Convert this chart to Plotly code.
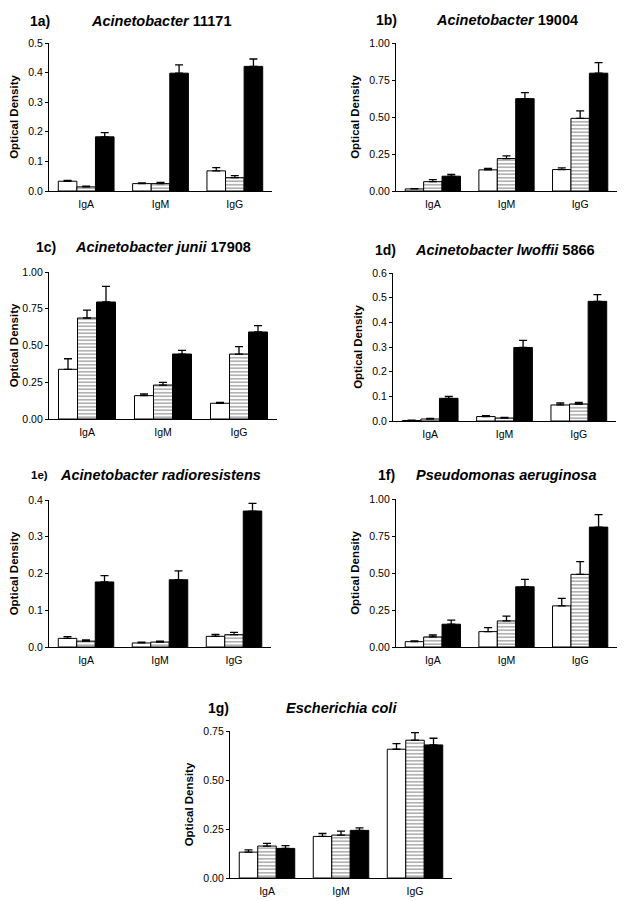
import plotly.graph_objects as go

# The page body keeps an 8 px margin, so the figure is sized to fill the rest of the window.
PAGE_W, PAGE_H, OFF = 629, 901, 8
W, H = PAGE_W - OFF, PAGE_H - OFF
categories = ["IgA", "IgM", "IgG"]

# Panel 1a
a_white = [0.033, 0.025, 0.068]
a_white_err = [0.003, 0.002, 0.011]
a_hatch = [0.014, 0.025, 0.045]
a_hatch_err = [0.002, 0.004, 0.007]
a_black = [0.183, 0.398, 0.421]
a_black_err = [0.014, 0.028, 0.025]

# Panel 1b
b_white = [0.014, 0.143, 0.145]
b_white_err = [0.002, 0.009, 0.011]
b_hatch = [0.063, 0.219, 0.491]
b_hatch_err = [0.014, 0.019, 0.050]
b_black = [0.100, 0.624, 0.796]
b_black_err = [0.013, 0.041, 0.071]

# Panel 1c
c_white = [0.338, 0.159, 0.107]
c_white_err = [0.072, 0.011, 0.006]
c_hatch = [0.687, 0.231, 0.442]
c_hatch_err = [0.054, 0.018, 0.050]
c_black = [0.796, 0.442, 0.592]
c_black_err = [0.106, 0.025, 0.043]

# Panel 1d
d_white = [0.002, 0.018, 0.065]
d_white_err = [0.001, 0.004, 0.008]
d_hatch = [0.008, 0.012, 0.069]
d_hatch_err = [0.003, 0.003, 0.006]
d_black = [0.092, 0.298, 0.485]
d_black_err = [0.008, 0.029, 0.027]

# Panel 1e
e_white = [0.0235, 0.011, 0.029]
e_white_err = [0.0045, 0.002, 0.005]
e_hatch = [0.016, 0.0135, 0.0335]
e_hatch_err = [0.003, 0.0025, 0.0065]
e_black = [0.177, 0.183, 0.370]
e_black_err = [0.017, 0.024, 0.021]

# Panel 1f
f_white = [0.036, 0.104, 0.278]
f_white_err = [0.005, 0.027, 0.050]
f_hatch = [0.068, 0.176, 0.491]
f_hatch_err = [0.013, 0.032, 0.086]
f_black = [0.154, 0.407, 0.810]
f_black_err = [0.027, 0.050, 0.084]

# Panel 1g
g_white = [0.132, 0.212, 0.657]
g_white_err = [0.012, 0.015, 0.029]
g_hatch = [0.163, 0.219, 0.703]
g_hatch_err = [0.014, 0.020, 0.039]
g_black = [0.151, 0.243, 0.679]
g_black_err = [0.014, 0.013, 0.034]

panels = [
    dict(label="1a)", title="<i>Acinetobacter</i> 11171", data=(a_white, a_white_err, a_hatch, a_hatch_err, a_black, a_black_err),
         yr=[0, 0.5], dt=0.1, fmt=".1f", box=(49, 272, 43, 191), lab_x=40, ty=21, lab_size=14),
    dict(label="1b)", title="<i>Acinetobacter</i> 19004", data=(b_white, b_white_err, b_hatch, b_hatch_err, b_black, b_black_err),
         yr=[0, 1.0], dt=0.25, fmt=".2f", box=(396, 617, 43, 191), lab_x=386, ty=20, lab_size=14),
    dict(label="1c)", title="<i>Acinetobacter junii</i> 17908", data=(c_white, c_white_err, c_hatch, c_hatch_err, c_black, c_black_err),
         yr=[0, 1.0], dt=0.25, fmt=".2f", box=(49, 277, 272, 419), lab_x=46, ty=247, lab_size=14),
    dict(label="1d)", title="<i>Acinetobacter lwoffii</i> 5866", data=(d_white, d_white_err, d_hatch, d_hatch_err, d_black, d_black_err),
         yr=[0, 0.6], dt=0.1, fmt=".1f", box=(393, 616, 273, 421), lab_x=385, ty=250, lab_size=14),
    dict(label="1e)", title="<i>Acinetobacter radioresistens</i>", data=(e_white, e_white_err, e_hatch, e_hatch_err, e_black, e_black_err),
         yr=[0, 0.4], dt=0.1, fmt=".1f", box=(49, 271, 500, 647), lab_x=39, ty=475, lab_size=11.5),
    dict(label="1f)", title="<i>Pseudomonas aeruginosa</i>", data=(f_white, f_white_err, f_hatch, f_hatch_err, f_black, f_black_err),
         yr=[0, 1.0], dt=0.25, fmt=".2f", box=(396, 617, 499, 647), lab_x=386, ty=475, lab_size=14),
    dict(label="1g)", title="<i>Escherichia coli</i>", data=(g_white, g_white_err, g_hatch, g_hatch_err, g_black, g_black_err),
         yr=[0, 0.75], dt=0.25, fmt=".2f", box=(230, 452, 731, 878), lab_x=218, ty=708, lab_size=14),
]


def px_x(p):
    return (p - OFF) / W


def px_y(p):
    return 1 - (p - OFF) / H


FONT = "Liberation Sans, Arial, sans-serif"
fig = go.Figure()
annotations = []
layout = {}

for i, p in enumerate(panels):
    n = "" if i == 0 else str(i + 1)
    xa, ya = "x" + n, "y" + n
    wv, we, hv, he, bv, be = p["data"]
    for vals, errs, kind in ((wv, we, "white"), (hv, he, "hatch"), (bv, be, "black")):
        marker = dict(line=dict(color="black", width=1))
        if kind == "white":
            marker["color"] = "white"
        elif kind == "black":
            marker["color"] = "black"
        else:
            marker["color"] = "white"
            marker["pattern"] = dict(shape="-", fgcolor="black", bgcolor="white", size=3.5, solidity=0.3)
        fig.add_trace(go.Bar(
            x=categories, y=vals, xaxis=xa, yaxis=ya, marker=marker, showlegend=False,
            error_y=dict(type="data", symmetric=False, array=errs, arrayminus=[0] * len(errs),
                         color="black", thickness=1.3, width=4),
        ))
    x0, x1, y0, y1 = p["box"]
    layout["xaxis" + n] = dict(domain=[px_x(x0), px_x(x1)], anchor=ya, range=[-0.5, 2.5], automargin=False,
                               showline=True, linecolor="black", linewidth=1.2, ticks="",
                               ticklabelstandoff=3,
                               tickfont=dict(size=10.5, family=FONT, color="black"), showgrid=False,
                               fixedrange=True)
    layout["yaxis" + n] = dict(domain=[px_y(y1), px_y(y0)], anchor=xa, range=p["yr"], dtick=p["dt"],
                               automargin=False,
                               tick0=0, tickformat=p["fmt"], showline=True, linecolor="black", linewidth=1.2,
                               ticks="outside", ticklen=3, tickwidth=1, tickcolor="black", showgrid=False,
                               zeroline=False, tickfont=dict(size=10.5, family=FONT, color="black"),
                               title=dict(text="<b>Optical Density</b>", font=dict(size=11.5, family=FONT, color="black"), standoff=7))
    annotations.append(dict(text="<b>" + p["label"] + "</b>", x=px_x(p["lab_x"]), y=px_y(p["ty"]),
                            xref="paper", yref="paper", showarrow=False, xanchor="center", yanchor="middle",
                            font=dict(size=p["lab_size"], family=FONT, color="black")))
    annotations.append(dict(text="<b>" + p["title"] + "</b>", x=px_x((x0 + x1) / 2), y=px_y(p["ty"]),
                            xref="paper", yref="paper", showarrow=False, xanchor="center", yanchor="middle",
                            font=dict(size=14.5, family=FONT, color="black")))

fig.update_layout(
    width=W, height=H, margin=dict(l=0, r=0, t=0, b=0, autoexpand=False),
    paper_bgcolor="white", plot_bgcolor="white",
    barmode="group", bargap=0.25, bargroupgap=0,
    annotations=annotations, font=dict(family=FONT, color="black"),
    **layout,
)
fig.write_html("out.html")
